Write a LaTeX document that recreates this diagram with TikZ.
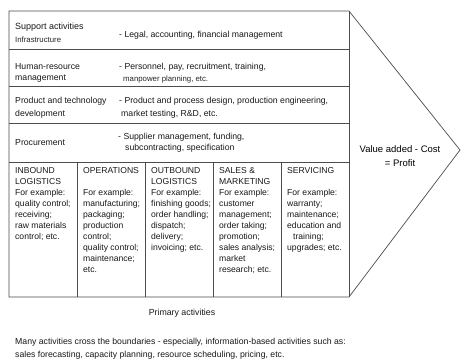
\documentclass[tikz,border=0pt]{standalone}
\usepackage{fontspec}
\setmainfont{Liberation Sans}
\begin{document}
\begin{tikzpicture}[x=1pt,y=-1pt,
  frame/.style={draw=black!70, line width=0.7pt},
  lbl/.style={anchor=west, inner sep=0pt, font=\fontsize{8.7}{11}\selectfont, text=black!90},
  small/.style={anchor=west, inner sep=0pt, font=\fontsize{7.8}{10}\selectfont, text=black!85},
  col/.style={anchor=north west, inner sep=0pt, align=left, font=\fontsize{8.6}{11}\selectfont, text=black!90}]
\useasboundingbox (0,0) rectangle (461,360);
\fill[white] (0,0) rectangle (461,360);
% frame and arrow
\coordinate (tl) at (9,11);
\coordinate (tr) at (349,11);
\coordinate (tip) at (460,150);
\coordinate (br) at (349,297);
\coordinate (bl) at (9,297);
\draw[frame] (tl) -- (tr) -- (tip) -- (br) -- (bl) -- cycle;
\draw[frame] (tr) -- (br);
% support rows
\foreach \y in {49,86,123,162} \draw[frame] (9,\y) -- (349,\y);
% primary columns
\foreach \x in {77,145,213,281} \draw[frame] (\x,162) -- (\x,297);
% support texts
\node[lbl, font=\fontsize{9}{11}\selectfont] (sa) at (15,27) {Support activities};
\node[small] (infra) at (15,40) {Infrastructure};
\node[lbl] (infrat) at (119,35) {- Legal, accounting, financial management};
\node[lbl] (hr1) at (15,67) {Human-resource};
\node[lbl] (hr2) at (15,79) {management};
\node[lbl] (hrt1) at (119,67) {- Personnel, pay, recruitment, training,};
\node[small] (hrt2) at (123,79) {manpower planning, etc.};
\node[lbl] (pt1) at (15,101) {Product and technology};
\node[lbl] (pt2) at (15,114) {development};
\node[lbl] (ptt1) at (119,101) {- Product and process design, production engineering,};
\node[lbl] (ptt2) at (121,114) {market testing, R\&D, etc.};
\node[lbl] (pr) at (15,143) {Procurement};
\node[lbl] (prt1) at (118,137) {- Supplier management, funding,};
\node[lbl] (prt2) at (125,148) {subcontracting, specification};
% primary columns text
\node[col] (inb) at (15,167) {INBOUND\\LOGISTICS\\For example:\\quality control;\\receiving;\\raw materials\\control; etc.};
\node[col] (ops) at (83,167) {OPERATIONS\\[11pt]For example:\\manufacturing;\\packaging;\\production\\control;\\quality control;\\maintenance;\\etc.};
\node[col] (outb) at (151,167) {OUTBOUND\\LOGISTICS\\For example:\\finishing goods;\\order handling;\\dispatch;\\delivery;\\invoicing; etc.};
\node[col] (sales) at (219,167) {SALES \&\\MARKETING\\For example:\\customer\\management;\\order taking;\\promotion;\\sales analysis;\\market\\research; etc.};
\node[col] (serv) at (287,167) {SERVICING\\[11pt]For example:\\warranty;\\maintenance;\\education and\\\hspace{6pt}training;\\upgrades; etc.};
% value added
\node[align=center, inner sep=0pt, font=\fontsize{9.5}{14}\selectfont, text=black] (va) at (400,156) {Value added - Cost\\= Profit};
% bottom
\node[inner sep=0pt, font=\fontsize{8.8}{11}\selectfont, text=black!90] (prim) at (182,313) {Primary activities};
\node[lbl] (many1) at (15,342) {Many activities cross the boundaries - especially, information-based activities such as:};
\node[lbl] (many2) at (15,355) {sales forecasting, capacity planning, resource scheduling, pricing, etc.};
\end{tikzpicture}
\end{document}
